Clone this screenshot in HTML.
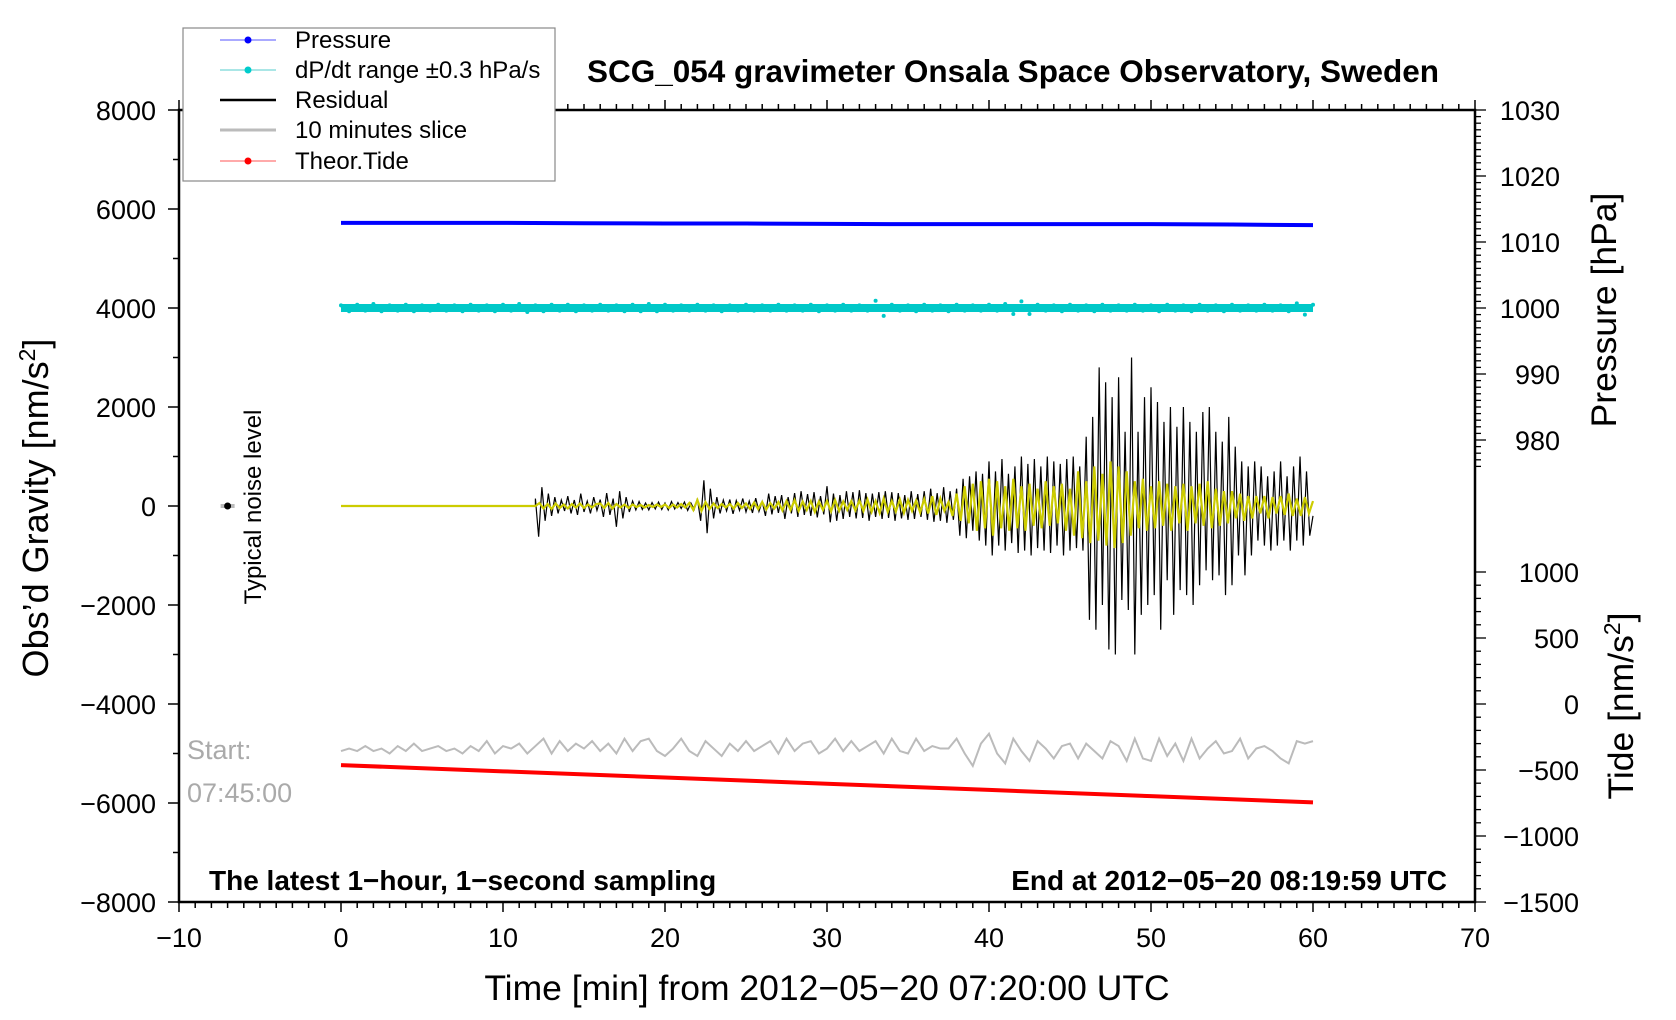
<!DOCTYPE html>
<html><head><meta charset="utf-8"><style>
html,body{margin:0;padding:0;background:#fff;}
svg{display:block;font-family:"Liberation Sans",sans-serif;}
</style></head><body>
<svg id="chart" width="1676" height="1020" viewBox="0 0 1676 1020" xmlns="http://www.w3.org/2000/svg">
<defs><clipPath id="plotclip"><rect x="179" y="110" width="1296" height="792"/></clipPath></defs>
<g id="marks" clip-path="url(#plotclip)"></g>
<g id="axes"></g>
<text x="1013" y="82" text-anchor="middle" font-size="31.5" font-weight="bold">SCG_054 gravimeter Onsala Space Observatory, Sweden</text>
<text transform="translate(48,508) rotate(-90)" text-anchor="middle" font-size="36">Obs’d Gravity [nm/s<tspan font-size="23" dy="-13">2</tspan><tspan dy="13">]</tspan></text>
<text transform="translate(1616,310) rotate(-90)" text-anchor="middle" font-size="35.5">Pressure [hPa]</text>
<text transform="translate(1633,706) rotate(-90)" text-anchor="middle" font-size="35.5">Tide [nm/s<tspan font-size="23" dy="-13">2</tspan><tspan dy="13">]</tspan></text>
<text x="827" y="1000" text-anchor="middle" font-size="35.5">Time [min] from 2012−05−20 07:20:00 UTC</text>
<text x="209" y="890" font-size="28" font-weight="bold">The latest 1−hour, 1−second sampling</text>
<text x="1447" y="890" text-anchor="end" font-size="28" font-weight="bold">End at 2012−05−20 08:19:59 UTC</text>
<text x="187" y="759" font-size="27" fill="#aaaaaa">Start:</text>
<text x="187" y="802" font-size="27" fill="#aaaaaa">07:45:00</text>
<text transform="translate(261,507) rotate(-90)" text-anchor="middle" font-size="24">Typical noise level</text>
<g>
<rect x="183" y="28" width="372" height="153" fill="#fff" stroke="#888" stroke-width="1.2"/>
<g><line x1="220" y1="40" x2="276" y2="40" stroke="#5555ff" stroke-width="1"/><circle cx="248" cy="40" r="3.5" fill="#0000ff"/><text x="295" y="48" font-size="24">Pressure</text></g>
<g><line x1="220" y1="70" x2="276" y2="70" stroke="#55cccc" stroke-width="1"/><circle cx="248" cy="70" r="3.5" fill="#00cccc"/><text x="295" y="78" font-size="24">dP/dt range ±0.3 hPa/s</text></g>
<g><line x1="220" y1="100" x2="276" y2="100" stroke="#000" stroke-width="2.5"/><text x="295" y="108" font-size="24">Residual</text></g>
<g><line x1="220" y1="130" x2="276" y2="130" stroke="#bbb" stroke-width="3"/><text x="295" y="138" font-size="24">10 minutes slice</text></g>
<g><line x1="220" y1="161" x2="276" y2="161" stroke="#ff5555" stroke-width="1"/><circle cx="248" cy="161" r="3.5" fill="#ff0000"/><text x="295" y="169" font-size="24">Theor.Tide</text></g>
</g>
</svg>
<script>
// ---- data ----
const pressureTimes = [0,5,10,15,20,25,30,35,40,45,50,55,60];
const pressureValues = [1012.9,1012.9,1012.9,1012.85,1012.8,1012.8,1012.75,1012.7,1012.7,1012.7,1012.7,1012.65,1012.55];
const dpdtStart = 0, dpdtStep = 0.5;
const dpdtValues = [0.4,-0.5,0.5,-0.4,0.6,-0.5,0.4,-0.4,0.5,-0.5,0.4,-0.4,0.5,-0.4,0.4,-0.5,0.5,-0.4,0.4,-0.5,
0.5,-0.4,0.6,-0.6,0.4,-0.5,0.5,-0.4,0.5,-0.5,0.4,-0.4,0.5,-0.4,0.4,-0.5,0.5,-0.5,0.6,-0.5,
0.5,-0.4,0.4,-0.4,0.5,-0.4,0.4,-0.5,0.4,-0.4,0.5,-0.4,0.4,-0.4,0.5,-0.4,0.4,-0.4,0.5,-0.5,
0.4,-0.4,0.5,-0.4,0.4,-0.4,1.1,-1.2,0.5,-0.4,0.4,-0.5,0.5,-0.4,0.4,-0.5,0.5,-0.4,0.4,-0.4,
0.5,-0.4,0.6,-0.9,1.0,-0.9,0.5,-0.4,0.4,-0.5,0.5,-0.4,0.4,-0.5,0.5,-0.4,0.4,-0.4,0.5,-0.4,
0.4,-0.5,0.5,-0.4,0.4,-0.5,0.5,-0.4,0.4,-0.5,0.5,-0.4,0.4,-0.4,0.5,-0.4,0.4,-0.5,0.7,-1.0,
0.5];
const residualStart = 12, residualStep = 0.2;
const residualValues = [150,-620,380,-300,250,-200,180,-150,120,-100,
200,-150,120,-180,250,-120,100,-150,180,-90,
130,-220,260,-180,150,-420,300,-250,180,-120,
100,-80,90,-70,60,-80,70,-60,80,-70,
60,-80,90,-60,70,-50,80,-90,60,-70,
150,-300,520,-550,350,-250,180,-150,120,-100,
130,-160,110,-90,150,-120,100,-140,160,-110,
90,-200,250,-170,200,-140,220,-260,180,-150,
260,-220,300,-180,240,-200,280,-230,200,-170,
400,-330,250,-300,220,-260,300,-220,280,-250,
320,-240,260,-300,250,-220,280,-260,300,-240,
280,-300,260,-250,220,-280,300,-260,240,-220,
300,-280,350,-320,260,-300,380,-340,300,-280,
350,-600,550,-650,600,-500,700,-700,650,-800,
900,-1000,700,-800,950,-900,650,-750,800,-950,
1000,-900,850,-1000,950,-850,800,-900,1000,-950,
900,-800,850,-1000,950,-900,1000,-850,800,-900,
1400,-2300,1800,-2500,2800,-2000,2500,-2900,2200,-3000,
2600,-1900,1500,-2100,3000,-3000,1500,-2200,2200,-2000,
2400,-1800,2100,-2500,1700,-1500,2000,-2200,1600,-1700,
2000,-1800,1700,-2000,1500,-1600,1900,-1300,2000,-1500,
1500,-1400,1300,-1800,1800,-1600,1200,-1000,900,-1400,
800,-1000,900,-700,800,-800,600,-900,700,-800,
900,-700,600,-900,800,-700,1000,-800,700,-600,
-200];
const filteredStart = 12, filteredStep = 0.25;
const filteredValues = [0,60,-50,40,-60,50,-40,30,-50,40,-30,50,-40,30,-30,40,
50,-40,60,-50,40,-30,30,-40,30,-20,20,-30,20,-20,30,-20,
30,-40,30,-30,40,-30,60,-80,120,-100,80,-60,50,-40,40,-30,
40,-50,60,-40,50,-60,70,-60,80,-70,60,-50,80,-90,100,-80,
120,-100,90,-80,100,-120,90,-80,100,-110,120,-100,90,-80,100,-90,
110,-100,130,-120,100,-140,150,-120,100,-110,130,-140,120,-100,110,-130,
140,-150,200,-180,150,-100,80,-200,250,-300,400,-350,450,-500,500,-450,
550,-600,500,-450,400,-500,550,-450,400,-500,450,-400,350,-450,500,-400,
400,-350,450,-500,350,-600,700,-650,500,-750,800,-700,650,-800,900,-850,
800,-750,700,-600,500,-450,550,-500,400,-450,500,-400,450,-500,400,-350,
450,-500,400,-350,450,-400,500,-450,350,-400,300,-350,300,-250,250,-300,
200,-250,200,-150,200,-250,180,-150,200,-180,250,-200,150,-200,180,-150,
100];
const sliceStart = 0, sliceStep = 0.5;
const sliceValues = [-4950,-4900,-4950,-4850,-4950,-4900,-5000,-4850,-4950,-4800,-4950,-4900,-4850,-4950,-4900,-5000,-4850,-4950,-4750,-5000,
-4850,-4900,-4800,-5000,-4850,-4700,-5000,-4750,-4950,-4800,-4900,-4750,-4950,-4800,-5000,-4700,-4950,-4750,-4700,-4950,
-5050,-4900,-4700,-4950,-5050,-4750,-4900,-5050,-4800,-4950,-4750,-4950,-4850,-4750,-5000,-4700,-4950,-4800,-4750,-5000,
-4900,-4700,-4950,-4750,-4950,-4850,-4750,-5000,-4700,-4950,-5000,-4700,-4950,-4850,-4900,-4900,-4700,-5000,-5250,-4800,
-4600,-5000,-5200,-4700,-4950,-5150,-4750,-4900,-5100,-4850,-4800,-5100,-4800,-4950,-5100,-4750,-4850,-5150,-4700,-5100,
-5150,-4700,-5050,-4800,-5150,-4700,-5100,-4900,-4750,-5000,-4950,-4700,-5100,-4900,-4850,-4950,-5100,-5200,-4750,-4800,
-4750];
const tideTimes = [0,10,20,30,40,50,60];
const tideValues = [-463,-510,-557,-604,-651,-698,-745];
const xTicks = [-10,0,10,20,30,40,50,60,70];
const yTicks = [8000,6000,4000,2000,0,-2000,-4000,-6000,-8000];
const pressureTicks = [1030,1020,1010,1000,990,980];
const tideTicks = [1000,500,0,-500,-1000,-1500];

// ---- scales ----
const X0=179, X1=1475, Y0=110, Y1=902;
const xs = t => X0 + (t+10)/80*(X1-X0);
const ys = g => Y0 + (8000-g)/16000*(Y1-Y0);
const ps = p => ys(4000 + (p-1000)*4000/30);
const ts = v => ys(-4000 + v*8/3);
const NS='http://www.w3.org/2000/svg';
function mk(tag, attrs, parent){const e=document.createElementNS(NS,tag);for(const k in attrs)e.setAttribute(k,attrs[k]);parent.appendChild(e);return e;}
const marks=document.getElementById('marks'), axes=document.getElementById('axes');

// noise level marker
let nb=mk('line',{x1:xs(-7)-7,y1:ys(0),x2:xs(-7)+7,y2:ys(0),stroke:'#bbb','stroke-width':4},marks);


let nd=mk('circle',{cx:xs(-7),cy:ys(0),r:3.5,fill:'#000'},marks);



// pressure
let pp=pressureTimes.map((t,i)=>xs(t)+','+ps(pressureValues[i])).join(' ');
let pl=mk('polyline',{points:pp,fill:'none',stroke:'#0000ff','stroke-width':4},marks);



// dP/dt
let db=mk('line',{x1:xs(0),y1:ps(1000),x2:xs(60),y2:ps(1000),stroke:'#00c8c8','stroke-width':8},marks);


const dg=mk('g',{fill:'#00c8c8'},marks);


dpdtValues.forEach((v,i)=>{const c=mk('circle',{cx:xs(dpdtStart+i*dpdtStep),cy:ps(1000+v),r:2},dg);

});

// residual
let rp=[xs(0)+','+ys(0), xs(residualStart)+','+ys(0)].concat(residualValues.map((v,i)=>xs(residualStart+i*residualStep)+','+ys(v))).join(' ');
let rl=mk('polyline',{points:rp,fill:'none',stroke:'#000','stroke-width':1.2},marks);


let fp=[xs(0)+','+ys(0)].concat(filteredValues.map((v,i)=>xs(filteredStart+i*filteredStep)+','+ys(v))).join(' ');
let fl=mk('polyline',{points:fp,fill:'none',stroke:'#cccc00','stroke-width':2.2},marks);



// slice
let sp=sliceValues.map((v,i)=>xs(sliceStart+i*sliceStep)+','+ys(v)).join(' ');
let sl=mk('polyline',{points:sp,fill:'none',stroke:'#bbbbbb','stroke-width':2},marks);



// tide
let tp=tideTimes.map((t,i)=>xs(t)+','+ts(tideValues[i])).join(' ');
let tl=mk('polyline',{points:tp,fill:'none',stroke:'#ff0000','stroke-width':4},marks);



// axes frame
let fr=mk('rect',{x:X0,y:Y0,width:X1-X0,height:Y1-Y0,fill:'none',stroke:'#000','stroke-width':2.5},axes);


// x ticks
for(let t=-10;t<=70;t++){const maj=t%10===0;const len=maj?10:6;const x=xs(t);
 mk('line',{x1:x,y1:Y1,x2:x,y2:Y1+len,stroke:'#000','stroke-width':1.5},axes);
 mk('line',{x1:x,y1:Y0,x2:x,y2:Y0-len,stroke:'#000','stroke-width':1.5},axes);}
xTicks.forEach(t=>{const e=mk('text',{x:xs(t),y:947,'text-anchor':'middle','font-size':27},axes);e.textContent=String(t).replace('-','−');

});
// y left
for(let g=-8000;g<=8000;g+=1000){const maj=g%2000===0;mk('line',{x1:X0,y1:ys(g),x2:X0-(maj?11:6),y2:ys(g),stroke:'#000','stroke-width':1.5},axes);}
yTicks.forEach(g=>{const e=mk('text',{x:156,y:ys(g)+10,'text-anchor':'end','font-size':27},axes);e.textContent=String(g).replace('-','−');

});
// pressure right
for(let p=1030;p>=976;p--){const maj=p%10===0;mk('line',{x1:X1,y1:ps(p),x2:X1+(maj?11:6),y2:ps(p),stroke:'#000','stroke-width':1.3},axes);}
pressureTicks.forEach(p=>{const e=mk('text',{x:1560,y:ps(p)+10,'text-anchor':'end','font-size':27},axes);e.textContent=String(p);

});
// tide right
for(let v=1000;v>=-1500;v-=100){const maj=v%500===0;mk('line',{x1:X1,y1:ts(v),x2:X1+(maj?11:6),y2:ts(v),stroke:'#000','stroke-width':1.3},axes);}
tideTicks.forEach(v=>{const e=mk('text',{x:1579,y:ts(v)+10,'text-anchor':'end','font-size':27},axes);e.textContent=String(v).replace('-','−');

});
</script>
</body></html>
